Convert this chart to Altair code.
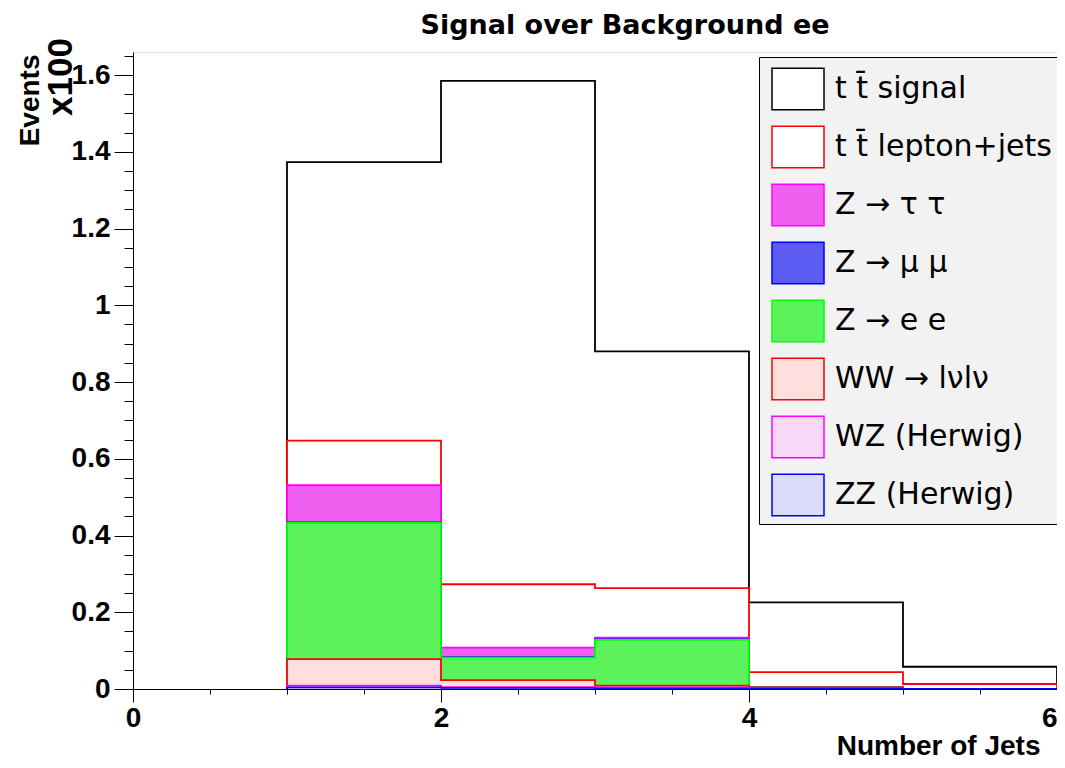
import altair as alt
import pandas as pd
import numpy as np

# ---------------- data ----------------
bin_edges = [0, 1, 2, 3, 4, 5, 6]

# legend / draw order (top of stack first)
series_names = [
    "t t\u0304 signal",
    "t t\u0304 lepton+jets",
    "Z \u2192 \u03c4 \u03c4",
    "Z \u2192 \u03bc \u03bc",
    "Z \u2192 e e",
    "WW \u2192 l\u03bdl\u03bd",
    "WZ (Herwig)",
    "ZZ (Herwig)",
]

# per-process contents for bins [0-1, 1-2, 2-3, 3-4, 4-5, 5-6]  (x100 events)
tt_signal = [0, 0.726, 1.312, 0.617, 0.182, 0.045]
tt_ljets = [0, 0.116, 0.165, 0.129, 0.039, 0.013]
z_tautau = [0, 0.097, 0.025, 0.005, 0.001, 0.000]
z_mumu = [0, 0.001, 0.001, 0.001, 0.000, 0.000]
z_ee = [0, 0.355, 0.059, 0.119, 0.000, 0.000]
ww = [0, 0.069, 0.018, 0.005, 0.003, 0.000]
wz = [0, 0.005, 0.002, 0.003, 0.001, 0.000]
zz = [0, 0.004, 0.003, 0.001, 0.000, 0.000]

fill_colors = ["#ffffff", "#ffffff", "#f060f0", "#5c5cf2", "#5cf25c",
               "#ffdede", "#f8d8f8", "#dcdcfa"]
stroke_colors = ["#000000", "#ff0000", "#ff00ff", "#0000ff", "#00ff00",
                 "#ff0000", "#ff00ff", "#0000ff"]

x_ticks = [0, 0.5, 1, 1.5, 2, 2.5, 3, 3.5, 4, 4.5, 5, 5.5, 6]
y_ticks = [0, 0.05, 0.1, 0.15, 0.2, 0.25, 0.3, 0.35, 0.4, 0.45, 0.5, 0.55,
           0.6, 0.65, 0.7, 0.75, 0.8, 0.85, 0.9, 0.95, 1.0, 1.05, 1.1, 1.15,
           1.2, 1.25, 1.3, 1.35, 1.4, 1.45, 1.5, 1.55, 1.6, 1.65]

title_text = "Signal over Background ee"
scale_text = "x100"

# ---------------- stack (like THStack) ----------------
stack_bottom_up = [zz, wz, ww, z_ee, z_mumu, z_tautau, tt_ljets, tt_signal]
cum = np.cumsum(np.array(stack_bottom_up, dtype=float), axis=0)[::-1]  # top first

rect_rows, line_rows = [], []
for s, name in enumerate(series_names):
    c = cum[s]
    for i in range(6):
        if c[i] > 0:
            rect_rows.append({"series": name, "lo": bin_edges[i], "hi": bin_edges[i + 1],
                              "top": c[i], "base": 0.0})
    nz = [i for i in range(6) if c[i] > 0]
    start = nz[0]
    k = 0
    line_rows.append({"series": name, "lo": bin_edges[start], "top": 0.0, "idx": k}); k += 1
    for i in range(start, 6):
        line_rows.append({"series": name, "lo": bin_edges[i], "top": c[i], "idx": k}); k += 1
    line_rows.append({"series": name, "lo": bin_edges[6], "top": c[5], "idx": k}); k += 1
    line_rows.append({"series": name, "lo": bin_edges[6], "top": 0.0, "idx": k})

rect_df = pd.DataFrame(rect_rows)
line_df = pd.DataFrame(line_rows)
legend_df = pd.DataFrame({"series": series_names})

# ---------------- axes ----------------
x_axis = alt.Axis(
    values=x_ticks,
    labelExpr="datum.value % 2 == 0 ? format(datum.value, 'd') : ''",
    tickSize={"condition": {"test": "datum.value % 2 == 0", "value": 13}, "value": 5},
    labelAlign={"condition": {"test": "datum.value == 6", "value": "right"}, "value": "center"},
    labelFont="Liberation Sans", labelFontWeight="bold", labelFontSize=28,
    labelColor="black", labelPadding=2, labelOverlap=False, labelFlush=False,
    domainColor="black", tickColor="black", grid=False, zindex=1,
    title="Number of Jets", titleX=907, titleY=65, titleAlign="right",
    titleBaseline="alphabetic", titleFont="Liberation Sans", titleFontWeight="bold",
    titleFontSize=28, titleColor="black",
)
y_axis = alt.Axis(
    values=y_ticks,
    labelExpr="round(datum.value * 100) % 20 == 0 ? format(datum.value, '~g') : ''",
    tickSize={"condition": {"test": "round(datum.value * 100) % 20 == 0", "value": 19}, "value": 9},
    labelFont="Liberation Sans", labelFontWeight="bold", labelFontSize=28,
    labelColor="black", labelPadding=4, labelOverlap=False,
    domainColor="black", tickColor="black", grid=False, zindex=1,
    title="Events", titleAngle=270, titleX=-95, titleY=2, titleAlign="right",
    titleBaseline="alphabetic", titleFont="Liberation Sans", titleFontWeight="bold",
    titleFontSize=28, titleColor="black",
)
X = alt.X("lo:Q", scale=alt.Scale(domain=[0, 6], nice=False, zero=False), axis=x_axis)
Y = alt.Y("top:Q", scale=alt.Scale(domain=[0, 1.66], nice=False), axis=y_axis)

layers = []
for s, name in enumerate(series_names):
    layers.append(
        alt.Chart(rect_df).transform_filter(alt.datum.series == name)
        .mark_rect(fill=fill_colors[s], strokeWidth=0)
        .encode(x=X, x2="hi:Q", y=Y, y2="base:Q")
    )
    layers.append(
        alt.Chart(line_df).transform_filter(alt.datum.series == name)
        .mark_line(interpolate="step-after", stroke=stroke_colors[s], strokeWidth=1.8)
        .encode(x=X, y=Y, order=alt.Order("idx:Q"))
    )

leg = alt.Legend(
    title=None, orient="none", legendX=626, legendY=5,
    fillColor="#f2f2f2", strokeColor="black", padding=5,
    symbolType="M-1,-0.8H1V0.8H-1Z", symbolSize=2704, symbolStrokeWidth=1.5,
    symbolOpacity=1, symbolOffset=7, labelOffset=10, rowPadding=7,
    labelFont="DejaVu Sans", labelFontSize=30, labelColor="black", labelLimit=400,
)
legend_layer = alt.Chart(legend_df).mark_point(
    shape="M-1,-0.8H1V0.8H-1Z", filled=True, opacity=0, size=1
).encode(
    fill=alt.Fill("series:N", scale=alt.Scale(domain=series_names, range=fill_colors), legend=leg),
    stroke=alt.Stroke("series:N", scale=alt.Scale(domain=series_names, range=stroke_colors), legend=leg),
)
layers.append(legend_layer)

x100 = alt.Chart(pd.DataFrame({"t": [scale_text]})).mark_text(
    angle=270, align="right", baseline="alphabetic", font="Liberation Sans",
    fontWeight="bold", fontSize=35, color="black"
).encode(x=alt.value(-61), y=alt.value(-14), text="t:N")
layers.append(x100)

title = alt.Chart(pd.DataFrame({"t": [title_text]})).mark_text(
    align="center", baseline="alphabetic", font="DejaVu Sans",
    fontWeight="bold", fontSize=27, color="black"
).encode(x=alt.value(492), y=alt.value(-18), text="t:N")
layers.append(title)

chart = alt.layer(*layers).properties(
    width=924, height=637,
    autosize=alt.AutoSizeParams(type="none"),
    padding={"left": 125, "top": 44, "right": 0, "bottom": 71},
).configure_view(stroke="black", strokeWidth=1).configure(background="white")

chart.save("out.html", embed_options={"renderer": "svg", "actions": False})
